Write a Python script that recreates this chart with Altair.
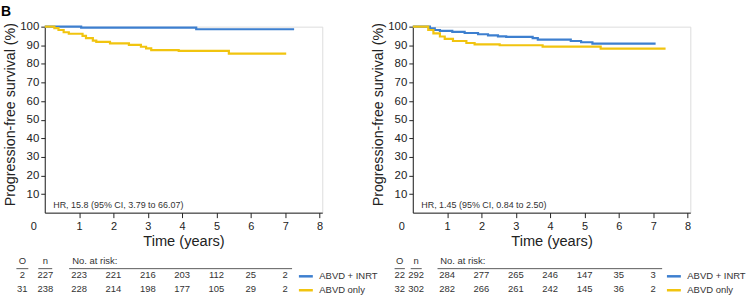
import altair as alt
import pandas as pd

ARMS = ["ABVD + INRT", "ABVD only"]
BLUE = "#3d7fcf"
YELLOW = "#f1c40f"
FONT = "Liberation Sans"
TXT = "#333333"

# ---- Left panel curves (time in years, PFS %) ----
L_INRT_T = [0, 1.06, 4.41, 7.26]
L_INRT_S = [100, 99.5, 98.6, 98.6]
L_ABVD_T = [0, 0.28, 0.40, 0.55, 0.70, 1.10, 1.20, 1.40, 1.50, 1.90, 2.45, 2.80, 2.95, 3.10, 3.90, 5.36, 7.03]
L_ABVD_S = [100, 99.2, 98.2, 97.0, 96.2, 95.0, 93.8, 92.5, 91.8, 91.0, 90.2, 89.2, 88.3, 87.4, 87.0, 85.5, 85.5]

# ---- Right panel curves ----
R_INRT_T = [0, 0.50, 0.64, 0.79, 1.15, 1.51, 1.90, 2.19, 2.48, 2.72, 3.49, 3.64, 4.60, 4.90, 5.23, 7.07]
R_INRT_S = [100, 99.1, 98.2, 97.7, 97.2, 96.6, 95.9, 95.3, 94.8, 94.5, 93.8, 93.0, 92.3, 91.6, 90.9, 90.9]
R_ABVD_T = [0, 0.45, 0.60, 0.79, 0.93, 1.17, 1.56, 1.80, 2.53, 3.78, 5.47, 7.36]
R_ABVD_S = [100, 98.2, 96.4, 94.7, 93.4, 92.3, 91.2, 90.5, 90.0, 89.3, 88.2, 88.2]

# ---- Risk table ----
RISK_TIMES = [1, 2, 3, 4, 5, 6, 7]
L_RISK_INRT = [223, 221, 216, 203, 112, 25, 2]
L_RISK_ABVD = [228, 214, 198, 177, 105, 29, 2]
R_RISK_INRT = [284, 277, 265, 246, 147, 35, 3]
R_RISK_ABVD = [282, 266, 261, 242, 145, 36, 2]
L_O = [2, 31]
L_N = [227, 238]
R_O = [22, 32]
R_N = [292, 302]
L_HR = "HR, 15.8 (95% CI, 3.79 to 66.07)"
R_HR = "HR, 1.45 (95% CI, 0.84 to 2.50)"

X_TICKS = [1, 2, 3, 4, 5, 6, 7, 8]
Y_TICKS = [10, 20, 30, 40, 50, 60, 70, 80, 90, 100]

W, H = 279, 187
XS = alt.Scale(domain=[0, 8.08], nice=False, zero=False)
YS = alt.Scale(domain=[0, 100], nice=False, zero=False)
ROWS = alt.Scale(domain=[0, 2], range=[236, 263.5], nice=False, zero=False)
CS = alt.Scale(domain=ARMS, range=[BLUE, YELLOW])

XAX = alt.Axis(values=X_TICKS, tickSize=5, labelPadding=3, labelFontSize=11,
               labelColor="#222", tickColor="#222", domainColor="#222",
               titleFontSize=14.7, titleFontWeight="normal", titleColor="#222",
               titlePadding=2, grid=False, labelFont=FONT, titleFont=FONT)
YAX = alt.Axis(values=Y_TICKS, tickSize=4, labelPadding=2, labelFontSize=11.5,
               labelColor="#222", tickColor="#222", domainColor="#222",
               titleFontSize=14.3, titleFontWeight="normal", titleColor="#222",
               titleX=-27, titleY=88, grid=False, labelFont=FONT, titleFont=FONT)
XT = "Time (years)"
YT = "Progression-free survival (%)"


def xenc(field=None, datum=None):
    if datum is not None:
        return alt.X(datum=datum, type="quantitative", scale=XS, axis=XAX, title=XT)
    return alt.X(field, type="quantitative", scale=XS, axis=XAX, title=XT)


def yenc(field=None, datum=None):
    if datum is not None:
        return alt.Y(datum=datum, type="quantitative", scale=YS, axis=YAX, title=YT)
    return alt.Y(field, type="quantitative", scale=YS, axis=YAX, title=YT)


def panel(it, is_, at, as_, r1, r2, o, n, hr, cols, show_b):
    curves = pd.DataFrame({
        "time": list(it) + list(at),
        "surv": list(is_) + list(as_),
        "arm": [ARMS[0]] * len(it) + [ARMS[1]] * len(at),
    })
    legend = alt.Legend(orient="none", legendX=254, legendY=242.5, title=None,
                        symbolType="stroke", symbolSize=196, symbolStrokeWidth=2.5,
                        labelFontSize=9.5, labelOffset=5, rowPadding=0, padding=0,
                        labelColor=TXT, direction="vertical", labelFont=FONT)
    lines = alt.Chart(curves).mark_line(interpolate="step-after", strokeWidth=2.2).encode(
        x=xenc("time"), y=yenc("surv"),
        color=alt.Color("arm:N", scale=CS, legend=legend, sort=ARMS),
    )
    zero = alt.Chart().mark_text(text="0", dx=-11, dy=14, fontSize=11, color="#222",
                                 font=FONT).encode(x=xenc(datum=0), y=yenc(datum=0))
    hrt = alt.Chart().mark_text(text=hr, align="left", baseline="middle", fontSize=9,
                                color=TXT, font=FONT).encode(x=xenc(datum=0.246), y=yenc(datum=4.3))
    plot_layers = [lines, zero, hrt]
    if show_b:
        blab = alt.Chart().mark_text(text="B", align="left", baseline="top", fontSize=14,
                                     fontWeight="bold", color="#000", font=FONT).encode(
            x=alt.value(-44), y=alt.value(-22))
        plot_layers.append(blab)
    plot = alt.layer(*plot_layers)

    o_x, n_x, ul = cols
    labels, xs_, rows = [], [], []
    labels += ["O", "n"]; xs_ += [o_x, n_x]; rows += [0, 0]
    for i in range(2):
        labels += [str(o[i]), str(n[i])]; xs_ += [o_x, n_x]; rows += [i + 1, i + 1]
        rr = r1 if i == 0 else r2
        labels += [str(v) for v in rr]; xs_ += RISK_TIMES; rows += [i + 1] * len(rr)
    tab = pd.DataFrame({"label": labels, "x": xs_, "row": rows})
    cells = alt.Chart(tab).mark_text(fontSize=9.5, color=TXT, font=FONT, baseline="middle").encode(
        x=xenc("x"), y=alt.Y("row:Q", scale=ROWS, axis=None), text="label:N")
    hdr = alt.Chart().mark_text(text="No. at risk:", align="left", fontSize=9.5, color=TXT,
                                font=FONT, baseline="middle").encode(
        x=xenc(datum=0.80), y=alt.Y(datum=0, type="quantitative", scale=ROWS, axis=None))
    uldf = pd.DataFrame({"x1": [u[0] for u in ul], "x2": [u[1] for u in ul]})
    rules = alt.Chart(uldf).mark_rule(color=TXT, strokeWidth=0.8).encode(
        x=xenc("x1"), x2="x2:Q",
        y=alt.Y(datum=0.53, type="quantitative", scale=ROWS, axis=None))
    table = alt.layer(cells, hdr, rules)
    return alt.layer(plot, table).resolve_scale(y="independent").properties(width=W, height=H)


L_COLS = (-0.652, 0.015, [(-0.826, -0.478), (-0.188, 0.217), (0.71, 7.20)])
R_COLS = (-0.38, 0.10, [(-0.53, -0.23), (-0.06, 0.26), (0.72, 7.26)])

left = panel(L_INRT_T, L_INRT_S, L_ABVD_T, L_ABVD_S, L_RISK_INRT, L_RISK_ABVD,
             L_O, L_N, L_HR, L_COLS, True)
right = panel(R_INRT_T, R_INRT_S, R_ABVD_T, R_ABVD_S, R_RISK_INRT, R_RISK_ABVD,
              R_O, R_N, R_HR, R_COLS, False)

chart = alt.hconcat(left, right, spacing=91, bounds="flush").resolve_scale(
    color="independent"
).properties(
    padding={"left": 0, "top": 3, "right": 0, "bottom": 0}, background="white"
).configure_view(stroke=None).configure(font=FONT)

chart.save("out.html", embed_options={"renderer": "svg", "actions": False})
